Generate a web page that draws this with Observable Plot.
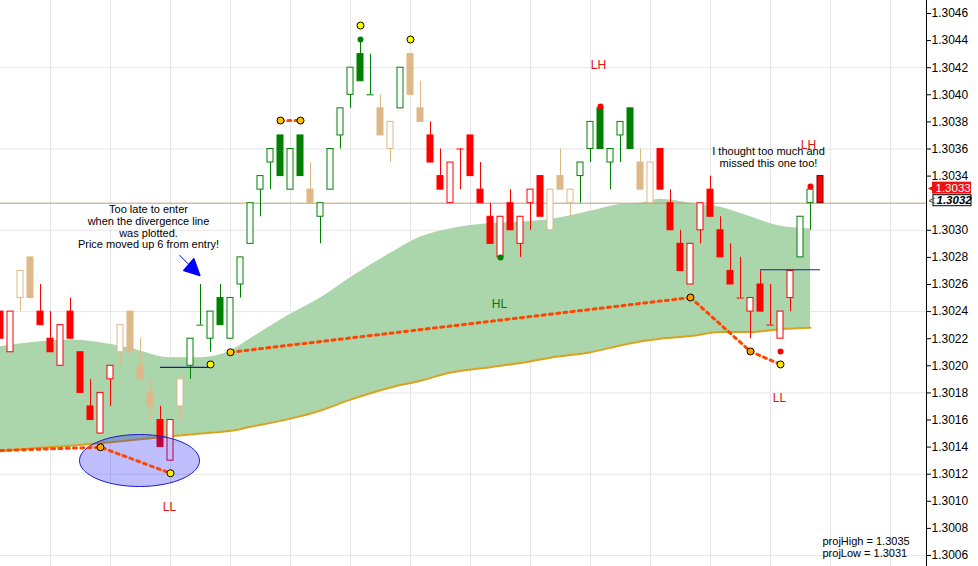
<!DOCTYPE html>
<html><head><meta charset="utf-8">
<script src="https://cdn.jsdelivr.net/npm/d3@7"></script>
<script src="https://cdn.jsdelivr.net/npm/@observablehq/plot@0.6"></script>
<style>html,body{margin:0;padding:0;background:#fff;} #chart{width:978px;height:566px;overflow:hidden}</style>
</head><body><div id="chart"></div>
<script>
// ---- candle data (index 0..82) ----
const opens  = [1.3024,1.3021,1.3025,1.3028,1.3024,1.3022,1.3020,1.3024,1.3021,1.3017,1.3015,1.3019,1.3021,1.3024,1.3020,1.3018,1.3016,1.3013,1.3017,1.3020,1.3023,1.3022,1.3025,1.3022,1.3026,1.3029,1.3033,1.3035,1.3037,1.3033,1.3037,1.3033,1.3031,1.3033,1.3037,1.3040,1.3043,1.3040,1.3039,1.3036,1.3039,1.3043,1.3039,1.3037,1.3034,1.3032,1.3036,1.3037,1.3033,1.3031,1.3028,1.3032,1.3029,1.3032,1.3034,1.3030,1.3034,1.3032,1.3034,1.3036,1.3039,1.3035,1.3037,1.3039,1.3035,1.3032,1.3036,1.3032,1.3029,1.3026,1.3030,1.3033,1.3030,1.3027,1.3025,1.3024,1.3026,1.3023,1.3022,1.3025,1.3028,1.3032,1.3034];
const highs  = [1.3024,1.3024,1.3027,1.3028,1.3026,1.3024,1.3023,1.3025,1.3021,1.3019,1.3018,1.3020,1.3023,1.3024,1.3022,1.3019,1.3017,1.3016,1.3019,1.3022,1.3026,1.3024,1.3026,1.3025,1.3028,1.3032,1.3034,1.3036,1.3037,1.3036,1.3037,1.3035,1.3032,1.3036,1.3039,1.3042,1.3044,1.3043,1.3040,1.3038,1.3042,1.3043,1.3041,1.3038,1.3036,1.3035,1.3036,1.3037,1.3035,1.3032,1.3031,1.3033,1.3031,1.3033,1.3034,1.3033,1.3036,1.3033,1.3035,1.3038,1.3039,1.3036,1.3038,1.3039,1.3036,1.3035,1.3036,1.3033,1.3030,1.3029,1.3032,1.3034,1.3031,1.3029,1.3028,1.3025,1.3027,1.3026,1.3024,1.3027,1.3031,1.3033,1.3034];
const lows   = [1.3022,1.3021,1.3024,1.3025,1.3023,1.3021,1.3020,1.3022,1.3018,1.3016,1.3015,1.3017,1.3020,1.3021,1.3019,1.3016,1.3014,1.3013,1.3016,1.3019,1.3023,1.3021,1.3023,1.3022,1.3025,1.3029,1.3031,1.3033,1.3034,1.3033,1.3034,1.3032,1.3029,1.3033,1.3036,1.3039,1.3041,1.3040,1.3037,1.3035,1.3039,1.3040,1.3038,1.3035,1.3033,1.3032,1.3033,1.3034,1.3032,1.3029,1.3028,1.3030,1.3028,1.3030,1.3031,1.3030,1.3033,1.3031,1.3032,1.3035,1.3036,1.3033,1.3035,1.3036,1.3033,1.3032,1.3033,1.3030,1.3027,1.3026,1.3029,1.3031,1.3028,1.3026,1.3025,1.3022,1.3024,1.3023,1.3022,1.3024,1.3028,1.3030,1.3032];
const closes = [1.3022,1.3024,1.3027,1.3025,1.3023,1.3021,1.3023,1.3022,1.3018,1.3016,1.3018,1.3020,1.3023,1.3021,1.3019,1.3017,1.3014,1.3016,1.3019,1.3022,1.3023,1.3024,1.3023,1.3025,1.3028,1.3032,1.3034,1.3036,1.3034,1.3036,1.3034,1.3032,1.3032,1.3036,1.3039,1.3042,1.3041,1.3040,1.3037,1.3038,1.3042,1.3040,1.3038,1.3035,1.3033,1.3035,1.3036,1.3034,1.3032,1.3029,1.3031,1.3030,1.3031,1.3033,1.3031,1.3033,1.3033,1.3033,1.3035,1.3038,1.3036,1.3036,1.3038,1.3036,1.3033,1.3035,1.3033,1.3030,1.3027,1.3029,1.3032,1.3031,1.3028,1.3026,1.3025,1.3025,1.3024,1.3023,1.3024,1.3027,1.3031,1.3033,1.3032];
const trend  = "rrttrrrrrrrrttttrrtggggggggggggtggggggttgttrrrrrrrrrrrrtttggggggttrrrrrrrrrrrrrrggr";
const trendColors = {r: "#ff0000", g: "#008000", t: "#deb887"};

// ---- moving band (index, upper, lower) ----
const bandIdx   = [0,3,7,10,13,17,20,23,25,29,32,35,39,42,45,49,52,55,59,62,64,66,69,72,75,78,81];
const bandUpper = [1.30214,1.30217,1.30219,1.30217,1.30213,1.30206,1.30206,1.30211,1.30220,1.30238,1.30250,1.30265,1.30283,1.30295,1.30301,1.30305,1.30306,1.30308,1.30314,1.30319,1.30320,1.30323,1.30320,1.30317,1.30310,1.30303,1.30301];
const bandLower = [1.30137,1.30139,1.30141,1.30143,1.30145,1.30148,1.30150,1.30152,1.30155,1.30161,1.30167,1.30175,1.30184,1.30189,1.30195,1.30199,1.30202,1.30206,1.30210,1.30215,1.30218,1.30220,1.30222,1.30225,1.30225,1.30227,1.30228];

// ---- divergence lines ----
const divSeg   = [1,1,1,2,2,3,3,3,4,4];
const divIdx   = [0,10,17,23,69,69,75,78,28,30];
const divPrice = [1.301375,1.301399,1.301207,1.302100,1.302504,1.302504,1.302106,1.302010,1.30381,1.30381];

// ---- marker dots ----
const dotIdx   = [10,17,23,69,75,78,28,30,36,41,21];
const dotPrice = [1.301399,1.301207,1.302100,1.302504,1.302106,1.302010,1.30381,1.30381,1.304511,1.304408,1.302010];
const dotFill  = ["#ffa500","#ffee00","#ffcc00","#ff9900","#ff9900","#ffee00","#ffc000","#ffc000","#ffff00","#ffff00","#ffff00"];
const signalIdx   = [36,50,60,78,81];
const signalPrice = [1.304408,1.302799,1.303914,1.302106,1.303323];
const signalColor = ["#008000","#008000","#ff0000","#ff0000","#ff0000"];

// ---- blue level lines ----
const levelPrice = [1.301988,1.302709];
const levelFrom  = [16,76];
const levelTo    = [21,82];

// ---- swing labels ----
const swingText  = ["HH","LH","LH","HL","LL","LL"];
const swingIdx   = [35.8,59.8,80.8,49.9,16.9,77.9];
const swingPrice = [1.304725,1.304216,1.303626,1.302452,1.300954,1.301759];
const swingColor = ["#008000","#dd1111","#dd1111","#008000","#dd1111","#dd1111"];

// ---- notes ----
const noteText  = ["Too late to enter\nwhen the divergence line\nwas plotted.\nPrice moved up 6 from entry!",
                   "I thought too much and\nmissed this one too!"];
const noteIdx   = [14.8,76.8];
const notePrice = [1.303024,1.303537];
const projText  = "projHigh = 1.3035\nprojLow = 1.3031";
const projIdx = 82.2, projPrice = 1.300659;

// ---- ellipse & arrow annotation ----
const ellipseCenter = {i: 13.9, p: 1.301301};
const ellipseRadius = {i: 6.0, p: 0.0001919};
const arrowShaftIdx   = [17.93,19.0];
const arrowShaftPrice = [1.302814,1.302735];
const arrowHeadIdx    = [19.93,18.33,19.33];
const arrowHeadPrice  = [1.302666,1.302703,1.302790];

// ---- axis (1.3032 label sits under the last-price box) ----
const yTicks = [1.3006,1.3008,1.3010,1.3012,1.3014,1.3016,1.3018,1.3020,1.3022,1.3024,1.3026,1.3028,1.3030,1.3034,1.3036,1.3038,1.3040,1.3042,1.3044,1.3046];
const hGrid  = [1.3006,1.3012,1.3018,1.3024,1.3030,1.3036,1.3042];
const vGrid  = [5,11,17,23,29,35,41,47,53,59,65,71,77,83,89];
const axisIdx = 92.6;
const lastPrice = 1.3032;
const lastBar   = 1.3033;

// ---- build tables ----
const candles = opens.map((o,i) => ({i, o, h: highs[i], l: lows[i], c: closes[i], col: trendColors[trend[i]]}));
const bodies = candles.filter(d => d.o !== d.c);
const dojis  = candles.filter(d => d.o === d.c);
const band = bandIdx.map((i,k) => ({i, up: bandUpper[k], lo: bandLower[k]}));
const div = divIdx.map((i,k) => ({i, p: divPrice[k], seg: divSeg[k]}));
const dots = dotIdx.map((i,k) => ({i, p: dotPrice[k], fill: dotFill[k]}));
const signals = signalIdx.map((i,k) => ({i, p: signalPrice[k], fill: signalColor[k]}));
const levels = levelPrice.map((p,k) => ({p, x1: levelFrom[k], x2: levelTo[k]}));
const swings = swingText.map((t,k) => ({t, i: swingIdx[k], p: swingPrice[k], fill: swingColor[k]}));
const notes = noteText.map((t,k) => ({t, i: noteIdx[k], p: notePrice[k]}));
const ellipse = d3.range(0, 72).map(k => {
  const a = k / 72 * 2 * Math.PI;
  return {i: ellipseCenter.i + ellipseRadius.i * Math.cos(a), p: ellipseCenter.p + ellipseRadius.p * Math.sin(a)};
});
const shaft = arrowShaftIdx.map((i,k) => ({i, p: arrowShaftPrice[k]}));
const head = arrowHeadIdx.map((i,k) => ({i, p: arrowHeadPrice[k]}));

const chart = Plot.plot({
  width: 978, height: 566,
  marginLeft: 0, marginRight: 52, marginTop: 0, marginBottom: 0,
  style: {fontFamily: "'Liberation Sans', Arial, sans-serif", fontSize: "12px", background: "#fff", color: "#000"},
  x: {domain: [0, axisIdx], axis: null},
  y: {domain: [1.3006, 1.3046], range: [555, 13], axis: "right", ticks: yTicks, tickFormat: d3.format(".4f"), tickSize: 4, tickPadding: 1, label: null},
  color: {type: "identity"},
  marks: [
    Plot.ruleY(hGrid, {stroke: "#e6e6e6"}),
    Plot.ruleX(vGrid, {stroke: "#e6e6e6"}),
    Plot.areaY(band, {x: "i", y1: "lo", y2: "up", fill: "#abd5ab", curve: "monotone-x"}),
    Plot.line(band, {x: "i", y: "lo", stroke: "#d9a21c", strokeWidth: 2, curve: "monotone-x"}),
    Plot.ruleY([lastPrice], {stroke: "#c49a78"}),
    Plot.ruleX(candles, {x: "i", y1: "l", y2: "h", stroke: "col"}),
    Plot.rect(bodies, {x1: d => d.i - 0.3, x2: d => d.i + 0.3, y1: "o", y2: "c",
      fill: d => d.c > d.o ? "#ffffff" : d.col, stroke: d => d.i === 82 ? "#700000" : d.col}),
    Plot.ruleY(dojis, {y: "o", x1: d => d.i - 0.35, x2: d => d.i + 0.35, stroke: "col"}),
    Plot.line(ellipse, {x: "i", y: "p", curve: "linear-closed", fill: "#0000ff", fillOpacity: 0.25, stroke: "#1c1cc8", strokeWidth: 1}),
    Plot.line(div, {x: "i", y: "p", z: "seg", stroke: "#ff4500", strokeWidth: 3, strokeDasharray: "3,4.3"}),
    Plot.ruleY(levels, {y: "p", x1: "x1", x2: "x2", stroke: "#1a1aa8", strokeWidth: 1.2}),
    Plot.dot(dots, {x: "i", y: "p", r: 3.5, fill: "fill", stroke: "#000", strokeWidth: 1}),
    Plot.dot(signals, {x: "i", y: "p", r: 3, fill: "fill"}),
    Plot.line(shaft, {x: "i", y: "p", stroke: "#0000ff", strokeWidth: 1}),
    Plot.line(head, {x: "i", y: "p", fill: "#0000ff", stroke: "#0000ff", curve: "linear-closed"}),
    Plot.text(swings, {x: "i", y: "p", text: "t", fill: "fill", fontSize: 12}),
    Plot.text(notes, {x: "i", y: "p", text: "t", fill: "#000", fontSize: 11, lineHeight: 1.07}),
    Plot.text([projText], {x: () => projIdx, y: () => projPrice, text: d => d, textAnchor: "start", fill: "#000", fontSize: 11, lineHeight: 1.07}),
    Plot.ruleX([axisIdx], {stroke: "#000"}),
    Plot.rect([lastBar], {x1: () => axisIdx, x2: () => axisIdx, y1: d => d, y2: d => d, insetLeft: 6, insetRight: -45, insetTop: -6, insetBottom: -6, dy: -1.5, fill: "#ee1111"}),
    Plot.text([lastBar], {x: () => axisIdx, y: d => d, text: () => "◀", fill: "#ee1111", fontSize: 10, textAnchor: "start", dx: 1, dy: -1.5}),
    Plot.text([lastBar], {x: () => axisIdx, y: d => d, text: d => d.toFixed(4), fill: "#fff", fontSize: 11.5, textAnchor: "start", dx: 9, dy: -1.5}),
    Plot.rect([lastPrice], {x1: () => axisIdx, x2: () => axisIdx, y1: d => d, y2: d => d, insetLeft: 7, insetRight: -45, insetTop: -5.5, insetBottom: -5.5, dy: -2.5, fill: "#fff", stroke: "#000"}),
    Plot.text([lastPrice], {x: () => axisIdx, y: d => d, text: () => "<", fill: "#555", fontSize: 12, textAnchor: "start", dx: 2, dy: -2.5}),
    Plot.text([lastPrice], {x: () => axisIdx, y: d => d, text: d => d.toFixed(4), fill: "#000", fontSize: 11.5, fontWeight: "bold", fontStyle: "italic", textAnchor: "start", dx: 10, dy: -2.5})
  ]
});
document.getElementById("chart").appendChild(chart);
</script>
</body></html>
